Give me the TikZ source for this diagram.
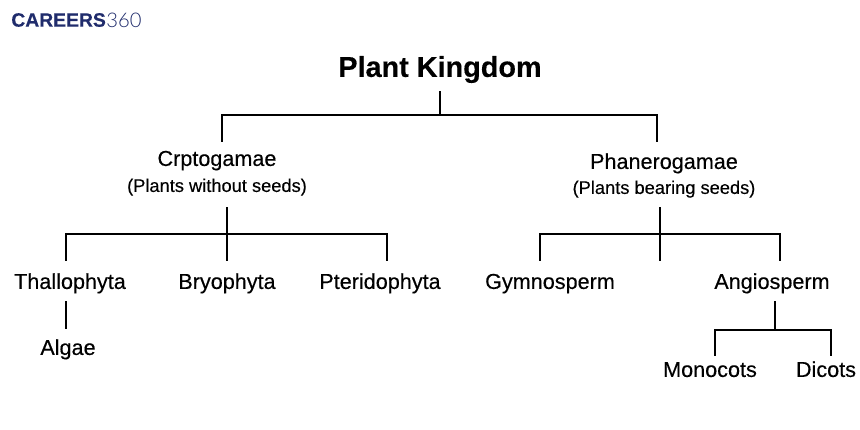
\documentclass[tikz,border=0pt]{standalone}
\usepackage{fontspec}
\usepackage{xcolor}
\setmainfont{Liberation Sans}[FakeBold=0.3]
\newfontfamily\logothin{Lato Light}
\definecolor{lognavy}{RGB}{32, 44, 108}
\tikzset{
  branch/.style={line width=1.15pt, black, line cap=rect},
  label/.style={font=\fontsize{12.3}{14}\selectfont, inner sep=0pt, outer sep=0pt, text height=1.04em, text depth=.14em, minimum height=42*0.02cm},
  sublabel/.style={label, font=\fontsize{10.4}{12}\selectfont}
}

\begin{document}
\begin{tikzpicture}[x=0.02cm, y=-0.02cm]
\useasboundingbox (0,0) rectangle (860,430);

% logo
\node[inner sep=0pt, anchor=west, text=lognavy, font=\fontsize{11}{13}\selectfont\bfseries] (logoname) at (11,20) {CAREERS};
\node[inner sep=0pt, anchor=west, text=lognavy, font=\fontsize{11.5}{13}\selectfont\logothin] (logonum) at (106,20) {360};

% headings
\node[label, font=\fontsize{16.4}{20}\selectfont\bfseries, minimum height=46*0.02cm] (kingdom) at (440,69) {Plant Kingdom};
\node[label, minimum height=34*0.02cm] (crpto) at (217,158) {Crptogamae};
\node[sublabel, minimum height=48*0.02cm] (crptosub) at (217,184) {(Plants without seeds)};
\node[label, minimum height=40*0.02cm] (phanero) at (664,161) {Phanerogamae};
\node[sublabel, minimum height=44*0.02cm] (phanerosub) at (664,186) {(Plants bearing seeds)};

% groups
\node[label] (thallo) at (70,281) {Thallophyta};
\node[label] (bryo) at (227,281) {Bryophyta};
\node[label] (pterido) at (380,281) {Pteridophyta};
\node[label] (gymno) at (550,281) {Gymnosperm};
\node[label] (angio) at (772,281) {Angiosperm};
\node[label, minimum height=38*0.02cm] (algae) at (68,347) {Algae};
\node[label, minimum height=28*0.02cm] (mono) at (710,369) {Monocots};
\node[label, minimum height=28*0.02cm] (dicot) at (826,369) {Dicots};

% forks of the tree
\coordinate (kingdomfork) at (440,115);
\coordinate (crptotop) at (222,115);
\coordinate (phanerotop) at (657,115);
\coordinate (crptofork) at (227,234);
\coordinate (thallotop) at (66,234);
\coordinate (pteridotop) at (387,234);
\coordinate (phanerofork) at (660,234);
\coordinate (gymnotop) at (540,234);
\coordinate (angiotop) at (780,234);
\coordinate (angiofork) at (775,330);
\coordinate (monotop) at (715,330);
\coordinate (dicottop) at (831,330);

\draw[branch] (kingdom.south) -- (kingdomfork);
\draw[branch] (crpto.north -| crptotop) -- (crptotop) -- (phanerotop) -- (phanero.north -| phanerotop);

\draw[branch] (crptosub.south -| crptofork) -- (bryo.north);
\draw[branch] (thallo.north -| thallotop) -- (thallotop) -- (pteridotop) -- (pterido.north -| pteridotop);
\draw[branch] (thallo.south -| thallotop) -- (algae.north -| thallotop);

\draw[branch] (phanerosub.south -| phanerofork) -- (phanerofork) -- (gymno.north -| phanerofork);
\draw[branch] (gymno.north -| gymnotop) -- (gymnotop) -- (angiotop) -- (angio.north -| angiotop);

\draw[branch] (angio.south -| angiofork) -- (angiofork);
\draw[branch] (mono.north -| monotop) -- (monotop) -- (dicottop) -- (dicot.north -| dicottop);
\end{tikzpicture}
\end{document}
